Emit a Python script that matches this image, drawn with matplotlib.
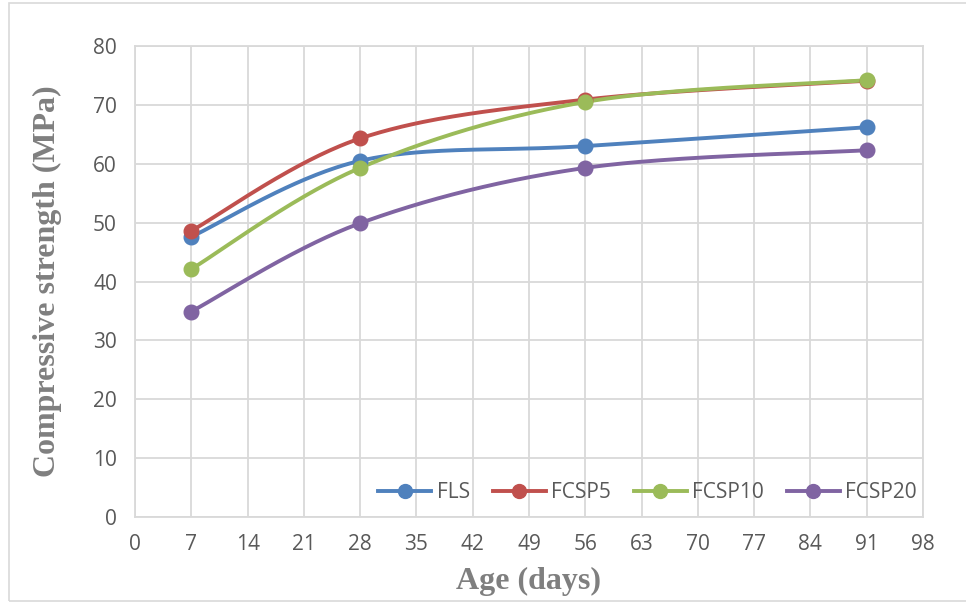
import numpy as np
import matplotlib
matplotlib.use("Agg")
import matplotlib.pyplot as plt
from matplotlib.lines import Line2D
from matplotlib.patches import Rectangle

# Curing age (days) and compressive strength (MPa) per mix
age = [7, 28, 56, 91]
fls = [47.6, 60.5, 63.0, 66.2]
fcsp5 = [48.6, 64.3, 70.9, 74.1]
fcsp10 = [42.1, 59.3, 70.5, 74.2]
fcsp20 = [34.9, 49.9, 59.3, 62.3]

series_names = ["FLS", "FCSP5", "FCSP10", "FCSP20"]
series_values = [fls, fcsp5, fcsp10, fcsp20]
colors = ["#4f81bd", "#c0504d", "#9bbb59", "#8064a2"]

x_ticks = list(range(0, 99, 7))
y_ticks = list(range(0, 81, 10))


def smooth_curve(x, y, n=60):
    """Cardinal-spline smoothing through the points (cubic Bezier segments)."""
    x = np.asarray(x, float)
    y = np.asarray(y, float)
    px, py = [], []
    m = len(x)
    for i in range(m - 1):
        x0, y0 = (x[i - 1], y[i - 1]) if i > 0 else (x[i], y[i])
        x1, y1 = x[i], y[i]
        x2, y2 = x[i + 1], y[i + 1]
        x3, y3 = (x[i + 2], y[i + 2]) if i + 2 < m else (x[i + 1], y[i + 1])
        c1x, c1y = x1 + (x2 - x0) / 6.0, y1 + (y2 - y0) / 6.0
        c2x, c2y = x2 - (x3 - x1) / 6.0, y2 - (y3 - y1) / 6.0
        t = np.linspace(0, 1, n)
        b0 = (1 - t) ** 3
        b1 = 3 * (1 - t) ** 2 * t
        b2 = 3 * (1 - t) * t ** 2
        b3 = t ** 3
        px.extend(b0 * x1 + b1 * c1x + b2 * c2x + b3 * x2)
        py.extend(b0 * y1 + b1 * c1y + b2 * c2y + b3 * y2)
    return np.array(px), np.array(py)


fig = plt.figure(figsize=(9.66, 6.03), dpi=100)
ax = fig.add_axes([135 / 966, 1 - 517 / 603, (923 - 135) / 966, (517 - 46) / 603])

tick_font = "Open Sans"
label_font = "Liberation Serif"
grid_color = "#d9d9d9"
text_color = "#595959"
title_color = "#7f7f7f"

handles = []
for name, vals, c in zip(series_names, series_values, colors):
    sx, sy = smooth_curve(age, vals)
    ax.plot(sx, sy, color=c, lw=2.8, solid_capstyle="round", zorder=3)
    ax.plot(age, vals, "o", color=c, ms=10.5, zorder=4)
    handles.append(Line2D([0], [0], color=c, lw=2.8, marker="o", ms=10))

ax.set_xlim(0, 98)
ax.set_ylim(0, 80)
ax.set_xticks(x_ticks)
ax.set_yticks(y_ticks)
ax.grid(True, color=grid_color, lw=1.3)
ax.set_axisbelow(True)
for sp in ax.spines.values():
    sp.set_color(grid_color)
    sp.set_linewidth(1.3)
ax.tick_params(length=0, labelsize=15, labelcolor=text_color)
ax.tick_params(axis="y", pad=13)
ax.tick_params(axis="x", pad=12)
for lab in ax.get_xticklabels() + ax.get_yticklabels():
    lab.set_fontfamily(tick_font)

ax.set_xlabel("Age (days)", fontsize=23, fontweight="bold", color=title_color,
              family=label_font)
ax.set_ylabel("Compressive strength (MPa)", fontsize=23, fontweight="bold",
              color=title_color, family=label_font)
ax.xaxis.set_label_coords(0.5, (517 - 581) / 471)
ax.xaxis.label.set_verticalalignment("center")
ax.yaxis.set_label_coords((47 - 135) / 788, 0.5)
ax.yaxis.label.set_verticalalignment("center")

leg = ax.legend(handles, series_names, loc="center right", ncol=4, frameon=False,
                bbox_to_anchor=(1.0, (517 - 493) / 471), handlelength=2.55,
                columnspacing=1.1, handletextpad=0.25, borderaxespad=0.0,
                borderpad=0.3, prop={"family": tick_font, "size": 15})
for t in leg.get_texts():
    t.set_color(text_color)

# outer chart border
fig.patches.append(Rectangle((9 / 966, 1 - 601 / 603), 1.2, (601 - 3) / 603,
                             transform=fig.transFigure, fill=False,
                             edgecolor=grid_color, lw=1.2))

fig.savefig("out.png", dpi=100)
